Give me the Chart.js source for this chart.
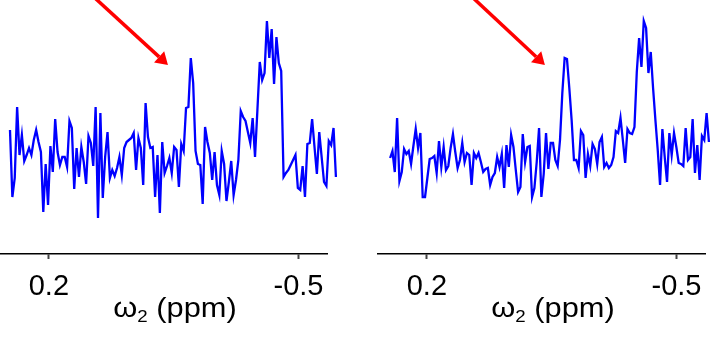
<!DOCTYPE html>
<html>
<head>
<meta charset="utf-8">
<title>ω2 spectra</title>
<script src="https://cdn.jsdelivr.net/npm/chart.js"></script>
<style>
  body { margin: 0; background: #fff; }
  #wrap { display: flex; width: 720px; height: 339px; }
  canvas { display: block; }
</style>
</head>
<body>
<div id="wrap">
  <canvas id="left" width="360" height="339"></canvas>
  <canvas id="right" width="360" height="339"></canvas>
</div>
<script>
// ppm of first and last point of each trace
const leftRange = [0.309, -0.605];
const rightRange = [0.303, -0.591];
const tickValues = [0.2, -0.5];
const tickLabels = ['0.2', '-0.5'];

// intensities (arbitrary units)
const leftIntensity = [
  20,-47,-28,43,-5,15,-11,-5,2,-5,
  10,20,8,-2,-62,-14,-55,4,-22,31,
  -2,-15,-7,-7,-17,29,22,-39,2,-27,
  3,-12,-34,14,7,-16,43,-68,37,-48,
  -7,18,-28,-20,-26,-18,-7,-25,2,8,
  10,12,17,-20,12,2,-35,47,13,2,
  3,-47,-5,-63,8,-23,-16,-8,-23,3,
  0,-37,6,-1,42,43,92,67,-1,-14,
  -15,-54,23,8,-3,-30,-2,-35,-45,-1,
  -14,-51,-32,-11,-45,-30,-10,39,33,29,
  18,7,32,-7,40,88,70,77,129,92,
  121,66,113,87,79,-27,-23,-20,-15,-10,
  -5,-38,-40,-16,-47,6,7,31,3,-24,
  18,-7,-32,-36,9,5,22,-27
];
const rightIntensity = [
  -8,-1,-22,32,-31,-22,1,-4,-1,-14,
  4,21,2,17,-47,-47,-28,-9,-8,-6,
  -23,9,-17,3,-20,-16,2,16,-2,-18,
  -10,7,-12,-3,-5,-35,-3,-8,-3,-12,
  -22,-19,-18,-35,-27,-23,-7,-17,-4,-38,
  5,-17,15,3,-20,-42,-37,16,-12,3,
  4,-47,-38,-12,22,-47,-24,17,-19,7,
  7,-10,-16,10,57,92,91,62,30,-10,
  -10,-18,19,15,-28,-4,-16,6,1,-14,
  8,13,-17,-13,-18,-15,-7,19,17,32,
  10,-13,21,17,16,23,78,112,83,129,
  122,77,98,62,30,0,-35,21,-7,-32,
  17,-5,17,3,-13,-14,-16,22,-10,-7,
  31,-23,5,-30,14,10,37,8
];

// red arrows: [ppm, intensity] of tail and tip
const leftArrow = [[0.08, 155], [-0.134, 85]];
const rightArrow = [[0.079, 155], [-0.131, 85]];

function toPoints(range, values) {
  const step = (range[1] - range[0]) / (values.length - 1);
  return values.map((v, i) => ({ x: range[0] + i * step, y: v }));
}

const decor = {
  id: 'decor',
  afterDatasetsDraw(chart, args, opts) {
    const ctx = chart.ctx;
    const xs = chart.scales.x, ys = chart.scales.y;
    const [tail, tip] = opts.arrow;
    const x0 = xs.getPixelForValue(tail[0]), y0 = ys.getPixelForValue(tail[1]);
    const x1 = xs.getPixelForValue(tip[0]), y1 = ys.getPixelForValue(tip[1]);
    const a = Math.atan2(y1 - y0, x1 - x0);
    const hl = 12, hw = 7.5;
    const bx = x1 - hl * Math.cos(a), by = y1 - hl * Math.sin(a);
    ctx.save();
    ctx.strokeStyle = '#ff0000';
    ctx.fillStyle = '#ff0000';
    ctx.lineWidth = 3.5;
    ctx.beginPath();
    ctx.moveTo(x0, y0);
    ctx.lineTo(bx, by);
    ctx.stroke();
    ctx.beginPath();
    ctx.moveTo(x1, y1);
    ctx.lineTo(bx + hw * Math.sin(a), by - hw * Math.cos(a));
    ctx.lineTo(bx - hw * Math.sin(a), by + hw * Math.cos(a));
    ctx.closePath();
    ctx.fill();

    // axis title: omega with subscript 2, slightly wide like the original
    const big = '28px "Liberation Sans", Arial, sans-serif';
    const small = '17px "Liberation Sans", Arial, sans-serif';
    const sx = 1.1;
    ctx.fillStyle = '#000';
    ctx.textBaseline = 'alphabetic';
    ctx.textAlign = 'left';
    ctx.font = big;
    const w1 = ctx.measureText('ω').width;
    const w3 = ctx.measureText(' (ppm)').width;
    ctx.font = small;
    const w2 = ctx.measureText('2').width;
    const cx = (chart.chartArea.left + chart.chartArea.right) / 2 + 11.5;
    const base = 317;
    ctx.translate(cx - sx * (w1 + w2 + w3) / 2, 0);
    ctx.scale(sx, 1);
    let x = 0;
    ctx.font = big;
    ctx.fillText('ω', x, base);
    x += w1;
    ctx.font = small;
    ctx.fillText('2', x, base + 5);
    x += w2;
    ctx.font = big;
    ctx.fillText(' (ppm)', x, base);
    ctx.restore();
  }
};

function makeChart(id, range, values, arrow, pad) {
  return new Chart(document.getElementById(id), {
    type: 'line',
    data: {
      datasets: [{
        data: toPoints(range, values),
        borderColor: '#0000ff',
        borderWidth: 2.3,
        pointRadius: 0,
        tension: 0,
        clip: false
      }]
    },
    options: {
      responsive: false,
      animation: false,
      layout: { padding: pad },
      plugins: {
        legend: { display: false },
        tooltip: { enabled: false },
        decor: { arrow: arrow }
      },
      scales: {
        x: {
          type: 'linear',
          reverse: true,
          min: -0.58,
          max: 0.337,
          afterBuildTicks: s => { s.ticks = tickValues.map(v => ({ value: v })); },
          afterFit: s => { s.height = 85; },
          ticks: {
            callback: (v, i) => tickLabels[i],
            autoSkip: false,
            maxRotation: 0,
            color: '#000',
            padding: 11,
            font: { family: '"Liberation Sans", Arial, sans-serif', size: 29 }
          },
          grid: { drawOnChartArea: false, drawTicks: true, tickLength: 5, tickWidth: 2, tickColor: '#444' },
          border: { display: true, color: '#000', width: 1.5 }
        },
        y: { display: false, min: -104, max: 150 }
      }
    },
    plugins: [decor]
  });
}

makeChart('left', leftRange, leftIntensity, leftArrow, { left: 0, right: 33, top: 0, bottom: 0 });
makeChart('right', rightRange, rightIntensity, rightArrow, { left: 18, right: 15, top: 0, bottom: 0 });
</script>
</body>
</html>
